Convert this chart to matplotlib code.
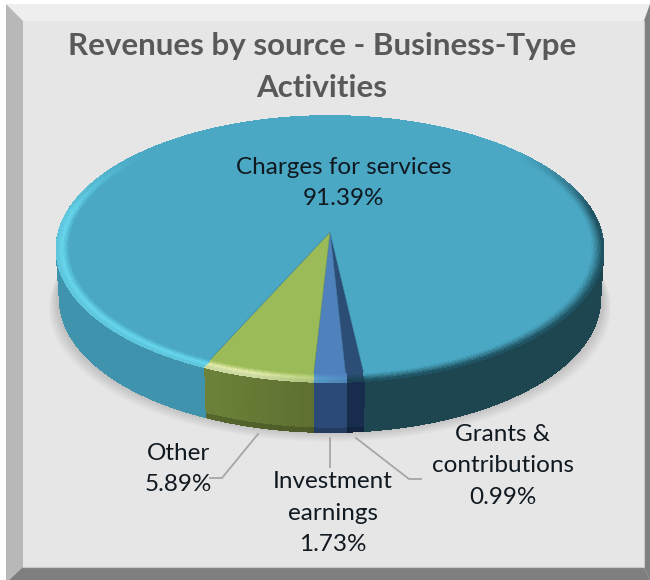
import numpy as np
import matplotlib
matplotlib.use("Agg")
import matplotlib.pyplot as plt
from matplotlib.collections import PolyCollection
from matplotlib.colors import to_rgb

# Slices in drawing order, clockwise from the front of the disc
categories = ["Grants &\ncontributions", "Investment\nearnings", "Other", "Charges for services"]
shares = [0.99, 1.73, 5.89, 91.39]
top_colors = ["#2c4d75", "#4f81bd", "#9bbb59", "#4aa8c4"]
wall_left = ["#182d4d", "#2b4a75", "#6c8239", "#3f93ad"]
wall_right = ["#182d4d", "#2b4a75", "#5e6f31", "#1d4650"]

title = "Revenues by source - Business-Type\nActivities"

# Disc geometry in image pixels
CX, CY = 330.0, 232.0
A, B, K = 271.2, 130.8, 0.128
DEPTH = 50.0
START = 6.6


def rim(phi, r=1.0):
    # perspective view of a flat disc, phi in degrees, 0 is the front
    p = np.radians(phi)
    u, v = r * np.sin(p), r * np.cos(p)
    d = 1 - K * v
    return CX + A * u / d, CY + B * v / d


def mix(c1, c2, t):
    return tuple((1 - t) * a + t * b for a, b in zip(c1, c2))


fig = plt.figure(figsize=(6.5, 5.8), dpi=100)
ax = fig.add_axes([0, 0, 1, 1])
ax.set_xlim(0, 650)
ax.set_ylim(580, 0)
ax.axis("off")
plt.rcParams["font.family"] = ["Lato", "DejaVu Sans"]

# Bevelled panel
ax.fill([6, 650, 650, 6], [4, 4, 580, 580], color="#e6e6e6", lw=0)
ax.fill([6, 650, 643, 23], [4, 4, 21, 21], color="#eeeeee", lw=0)
ax.fill([6, 23, 23, 9, 6], [4, 21, 567, 580, 580], color="#b8b8b8", lw=0)
ax.fill([650, 650, 644, 644], [4, 580, 567, 21], color="#7f7f7f", lw=0)
ax.fill([9, 650, 644, 23], [580, 580, 567, 567], color="#7f7f7f", lw=0)
ax.plot([23, 644, 644], [566.5, 566.5, 21], color="#c8c8c8", lw=0.8)

# Soft shadow under the disc
phis = np.arange(0, 361, 2.0)
for i in range(9):
    s = 1.0 + i * 0.0035
    x, y = rim(phis)
    ax.fill(CX + (x - CX) * s, y + DEPTH + 1 + i * 1.1, color="black", alpha=0.016, lw=0)

# Slice boundaries, from the shares
bounds = START - np.cumsum([0] + shares) * 3.6

# Side wall
polys, cols = [], []
bands = np.linspace(0, 1, 16)
for k in range(len(shares)):
    hi, lo = bounds[k], bounds[k + 1]
    a = np.arange(lo, hi, 1.0)
    a = np.append(a, hi)
    for p0, p1 in zip(a[:-1], a[1:]):
        mid = (p0 + p1) / 2
        mid = (mid + 180) % 360 - 180
        if abs(mid) > 112:
            continue
        base = to_rgb(wall_left[k]) if mid < 0 else to_rgb(wall_right[k])
        if k == 2:
            base = mix(to_rgb(wall_left[k]), to_rgb(wall_right[k]), (p0 - lo) / (hi - lo))
        for t0, t1 in zip(bands[:-1], bands[1:]):
            xa, ya = rim(np.array([p0, p1]))
            sx0, sx1 = 1 - 0.012 * t0, 1 - 0.012 * t1
            quad = [
                (CX + (xa[0] - CX) * sx0, ya[0] + DEPTH * t0),
                (CX + (xa[1] - CX) * sx0, ya[1] + DEPTH * t0),
                (CX + (xa[1] - CX) * sx1, ya[1] + DEPTH * t1),
                (CX + (xa[0] - CX) * sx1, ya[0] + DEPTH * t1),
            ]
            polys.append(quad)
            cols.append(mix(base, (0, 0, 0), 0.2) if t0 >= 0.93 and k < 3 else base)
ax.add_collection(PolyCollection(polys, facecolors=cols, edgecolors=cols, linewidths=0.7, antialiaseds=False))

# Top face
for k in range(len(shares)):
    a = np.linspace(bounds[k], bounds[k + 1], max(3, int(abs(bounds[k + 1] - bounds[k]))))
    x, y = rim(a)
    ax.fill(np.r_[CX, x], np.r_[CY, y], color=top_colors[k], lw=0.4, ec=mix(to_rgb(top_colors[k]), (0.1, 0.3, 0.4), 0.35))

# Bevel round the rim
polys, cols = [], []
radii = np.linspace(0.955, 1.0, 10)
for k in range(len(shares)):
    top = to_rgb(top_colors[k])
    hi, lo = bounds[k], bounds[k + 1]
    a = np.append(np.arange(lo, hi, 1.0), hi)
    for p0, p1 in zip(a[:-1], a[1:]):
        mid = np.radians((p0 + p1) / 2)
        side = np.sin(mid)
        front = np.clip((np.cos(mid) + 0.65) / 0.5, 0, 1)
        for r0, r1 in zip(radii[:-1], radii[1:]):
            t = (r0 - radii[0]) / (radii[-1] - radii[0])
            if side < 0.06:
                # lit side: brightens towards the middle of the bevel
                glow = mix(top, (1, 1, 0.8) if k == 2 else (0.45, 0.92, 1.0), 0.7 * min(1, -side * 3 + 0.3))
                c = mix(top, glow, min(1, t * 1.8)) if t < 0.55 else mix(glow, mix(glow, (0.15, 0.3, 0.35), 0.15), (t - 0.55) / 0.45)
            else:
                dark = mix(top, (0.09, 0.25, 0.3), 0.95)
                c = mix(top, dark, t ** 1.3)
            c = mix(top, c, front)
            xa, ya = rim(np.array([p0, p1, p1, p0]), np.array([r0, r0, r1, r1]))
            polys.append(list(zip(xa, ya)))
            cols.append(c)
ax.add_collection(PolyCollection(polys, facecolors=cols, edgecolors=cols, linewidths=0.6, antialiaseds=False))

# Leader lines
line = dict(color="#a6a6a6", lw=1.3, solid_joinstyle="miter")
ax.plot([258, 222, 210], [434, 478, 478], **line)
ax.plot([330, 330], [438, 467], **line)
ax.plot([356, 409, 421], [438, 479, 479], **line)

# Text
ax.text(322, 67, title, ha="center", va="center", fontsize=22.5, fontweight="bold",
        color="#595959", linespacing=1.6)
lab = dict(ha="center", va="center", fontsize=17.5, color="#101820", linespacing=1.6)
ax.text(344, 183, f"{categories[3]}\n{shares[3]:.2f}%", **lab)
ax.text(178, 469, f"{categories[2]}\n{shares[2]:.2f}%", **lab)
ax.text(333, 513, f"{categories[1]}\n{shares[1]:.2f}%", **lab)
ax.text(503, 466, f"{categories[0]}\n{shares[0]:.2f}%", **lab)

fig.savefig("out.png", dpi=100, facecolor="white")
